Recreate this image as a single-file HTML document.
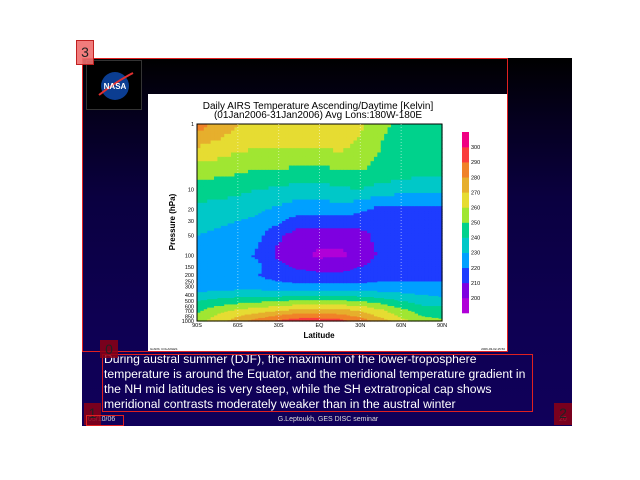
<!DOCTYPE html>
<html><head><meta charset="utf-8">
<style>
body{margin:0;width:640px;height:480px;background:#fff;position:relative;overflow:hidden;font-family:"Liberation Sans",sans-serif}
.abs{position:absolute}
</style></head><body>
<div class="abs" style="left:82px;top:58px;width:490px;height:368px;background:linear-gradient(#000 0px,#05001e 60px,#0a0040 140px,#0e0052 260px,#10005a 368px)"></div>
<div class="abs" style="left:86px;top:60px;width:56px;height:50px;background:#000;border:1px solid #333;box-sizing:border-box">
<svg width="56" height="50"><circle cx="28" cy="25" r="14" fill="#0b3d91"/><path d="M12 34 Q30 20 46 12" stroke="#e03030" stroke-width="2" fill="none"/><text x="28" y="28" text-anchor="middle" font-size="8" font-weight="bold" fill="#fff" font-family="Liberation Sans">NASA</text></svg></div>
<svg class="abs" style="left:0;top:0" width="640" height="480">
<rect x="148" y="94" width="359" height="258" fill="#fff"/>
<g id="cells"></g>
<rect x="197" y="124" width="245" height="197" fill="none" stroke="#000" stroke-width="1"/>
<g id="axes" font-family="Liberation Sans" font-size="5.5" fill="#000"></g>
<g id="cbar"></g>
<text x="318" y="109" text-anchor="middle" font-size="10" font-family="Liberation Sans">Daily AIRS Temperature Ascending/Daytime [Kelvin]</text>
<text x="318" y="118" text-anchor="middle" font-size="10" font-family="Liberation Sans">(01Jan2006-31Jan2006)   Avg Lons:180W-180E</text>
<text x="319" y="338" text-anchor="middle" font-size="8" font-weight="bold" font-family="Liberation Sans">Latitude</text>
<text transform="translate(175,222) rotate(-90)" text-anchor="middle" font-size="8" font-weight="bold" font-family="Liberation Sans">Pressure (hPa)</text>
<text x="150" y="350" font-size="3" font-family="Liberation Sans">GrADS: COLA/IGES</text>
<text x="505" y="350" text-anchor="end" font-size="3" font-family="Liberation Sans">2006-03-02-15:50</text>
</svg>
<div class="abs" style="left:104px;top:352px;width:430px;color:#fff;font-size:12.2px;line-height:15px;white-space:nowrap">During austral summer (DJF), the maximum of the lower-troposphere<br>temperature is around the Equator, and the meridional temperature gradient in<br>the NH mid latitudes is very steep, while the SH extratropical cap shows<br>meridional contrasts moderately weaker than in the austral winter</div>
<div class="abs" style="left:88px;top:416px;color:#ddd;font-size:7px">05/10/06</div>
<div class="abs" style="left:228px;top:416px;width:200px;text-align:center;color:#ddd;font-size:7px">G.Leptoukh, GES DISC seminar</div>
<div class="abs" style="left:559px;top:416px;color:#ddd;font-size:7px">20</div>
<div class="abs" style="left:82px;top:58px;width:426px;height:294px;border:1px solid #e02020;box-sizing:border-box"></div>
<div class="abs" style="left:76px;top:40px;width:18px;height:25px;background:rgba(240,110,110,0.9);border:1px solid #c02020;box-sizing:border-box;font-size:14px;color:#222;text-align:center;line-height:22px">3</div>
<div class="abs" style="left:102px;top:354px;width:431px;height:58px;border:1px solid #e02020;box-sizing:border-box"></div>
<div class="abs" style="left:100px;top:340px;width:18px;height:18px;background:rgba(140,0,20,0.85);font-size:14px;color:#222;text-align:center;line-height:18px">0</div>
<div class="abs" style="left:84px;top:403px;width:17px;height:22px;background:rgba(140,0,20,0.85);font-size:14px;color:#222;text-align:center;line-height:20px">1</div>
<div class="abs" style="left:86px;top:415px;width:38px;height:11px;border:1px solid #e02020;box-sizing:border-box"></div>
<div class="abs" style="left:554px;top:403px;width:18px;height:22px;background:rgba(140,0,20,0.85);font-size:14px;color:#222;text-align:center;line-height:20px">2</div>
<script>
const lats=[-90,-75,-60,-45,-30,-15,0,15,30,45,60,75,90];
const levels=[1,2,5,10,20,30,50,100,150,200,250,300,400,500,700,850,1000];
const temps=[
[285,278,270,266,265,264,264,266,262,252,248,246,246],
[272,268,264,262,262,262,262,264,258,250,246,244,244],
[255,254,252,250,250,248,248,250,250,248,246,244,244],
[245,244,242,240,238,236,236,238,240,236,234,232,232],
[238,236,235,232,228,224,224,226,222,216,216,216,216],
[234,232,230,228,222,215,215,215,215,214,214,214,214],
[230,228,226,222,212,205,204,204,206,214,214,214,214],
[228,225,225,218,207,202,198,198,203,212,214,214,214],
[226,224,224,222,214,208,206,206,210,215,215,215,215],
[222,222,222,220,216,214,212,212,214,216,216,216,216],
[224,224,224,222,220,218,218,218,218,220,220,220,220],
[226,226,226,226,224,224,224,224,224,224,224,224,224],
[232,234,236,236,236,238,238,238,236,234,232,230,228],
[240,244,246,248,250,252,252,252,250,246,240,236,234],
[248,256,262,266,270,274,274,274,270,262,254,246,244],
[252,262,270,276,282,286,286,284,278,268,258,250,248],
[255,265,275,285,292,296,296,294,286,276,264,254,252]];
const cbarTicks=[200,210,220,230,240,250,260,270,280,290,300];
const xTicks=["90S","60S","30S","EQ","30N","60N","90N"];
const yTicks=[1,10,20,30,50,100,150,200,250,300,400,500,600,700,850,1000];
const colors=["#b000d8","#7e00e0","#1e3cff","#00a0ff","#00c8c8","#00d28c","#a0e632","#e6dc32","#e6af2d","#f08228","#fa3c3c","#f00082"];
const X0=197,X1=442,Y0=124,Y1=321;
const xs=v=>X0+(v+90)/180*(X1-X0);
const ys=p=>Y0+Math.log10(p)/3*(Y1-Y0);
const col=t=>colors[Math.max(0,Math.min(11,Math.floor((t-190)/10)))];
const NS="http://www.w3.org/2000/svg";
const g=document.getElementById('cells');
const S=6;
for(let j=0;j<levels.length-1;j++)for(let i=0;i<lats.length-1;i++){
 for(let a=0;a<S;a++)for(let b=0;b<S;b++){
  const fx=(a+0.5)/S,fy=(b+0.5)/S;
  const t=temps[j][i]*(1-fx)*(1-fy)+temps[j][i+1]*fx*(1-fy)+temps[j+1][i]*(1-fx)*fy+temps[j+1][i+1]*fx*fy;
  const la0=lats[i]+(lats[i+1]-lats[i])*a/S, la1=lats[i]+(lats[i+1]-lats[i])*(a+1)/S;
  const lp0=Math.log10(levels[j]),lp1=Math.log10(levels[j+1]);
  const p0=Math.pow(10,lp0+(lp1-lp0)*b/S),p1=Math.pow(10,lp0+(lp1-lp0)*(b+1)/S);
  const r=document.createElementNS(NS,'rect');
  r.setAttribute('x',xs(la0));r.setAttribute('y',ys(p0));
  r.setAttribute('width',xs(la1)-xs(la0)+0.6);r.setAttribute('height',ys(p1)-ys(p0)+0.6);
  r.setAttribute('fill',col(t));
  
  
  g.appendChild(r);
 }}
const ax=document.getElementById('axes');
xTicks.forEach((l,k)=>{const x=xs(-90+30*k);
 const t=document.createElementNS(NS,'text');t.setAttribute('x',x);t.setAttribute('y',327);t.setAttribute('text-anchor','middle');t.textContent=l;
 
 
 ax.appendChild(t);
 if(k>0&&k<6){const d=document.createElementNS(NS,'line');d.setAttribute('x1',x);d.setAttribute('x2',x);d.setAttribute('y1',Y0);d.setAttribute('y2',Y1);d.setAttribute('stroke','#fff');d.setAttribute('stroke-opacity','0.5');d.setAttribute('stroke-dasharray','1 2');
 
 
 ax.appendChild(d);}});
yTicks.forEach(p=>{const y=ys(p);
 const t=document.createElementNS(NS,'text');t.setAttribute('x',194);t.setAttribute('y',y+2);t.setAttribute('text-anchor','end');t.textContent=p;
 
 
 ax.appendChild(t);});
const cb=document.getElementById('cbar');
const CB0=132,CBH=181,seg=CBH/colors.length;
colors.forEach((c,k)=>{const r=document.createElementNS(NS,'rect');
 r.setAttribute('x',462);r.setAttribute('y',CB0+CBH-(k+1)*seg);r.setAttribute('width',7);r.setAttribute('height',seg+0.3);r.setAttribute('fill',c);
 
 
 cb.appendChild(r);});
cbarTicks.forEach(v=>{const k=(v-190)/10;const y=CB0+CBH-k*seg;
 const t=document.createElementNS(NS,'text');t.setAttribute('x',471);t.setAttribute('y',y+2);t.setAttribute('font-size','5.5');t.setAttribute('font-family','Liberation Sans');t.textContent=v;
 
 
 cb.appendChild(t);});
</script>
</body></html>
